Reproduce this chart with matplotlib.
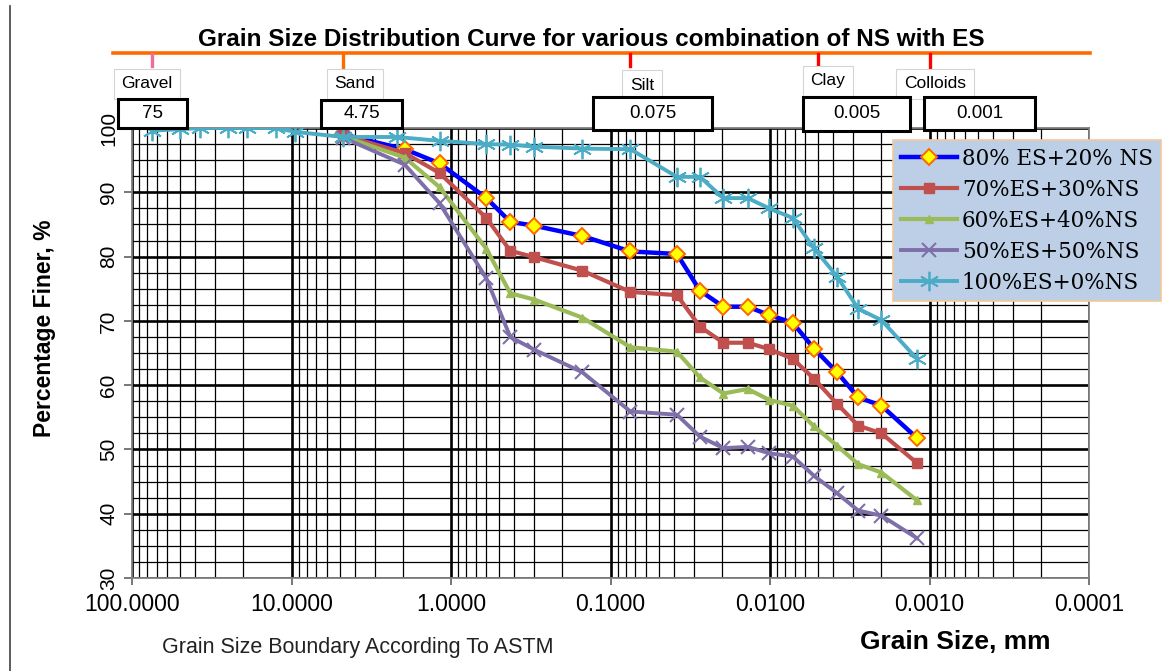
import matplotlib
matplotlib.use("Agg")
import matplotlib.pyplot as plt
import matplotlib.transforms as mtransforms
from matplotlib.lines import Line2D
from matplotlib.patches import Rectangle
from matplotlib.ticker import FixedLocator, FixedFormatter, LogLocator, MultipleLocator, NullFormatter

plt.rcParams['font.family'] = ['Liberation Sans', 'DejaVu Sans']

# Grain sizes (mm): sieve analysis followed by hydrometer readings
sizes_es = [75, 50, 37.5, 25, 19, 12.5, 9.5, 4.75, 2.18, 1.18, 0.6, 0.425, 0.3, 0.15, 0.075,
            0.0383, 0.0275, 0.0196, 0.0138, 0.0101, 0.0072, 0.0053, 0.0038, 0.0028, 0.0020, 0.0012]
sizes_mix = [4.75, 1.95, 1.18, 0.6, 0.425, 0.3, 0.15, 0.075,
             0.0383, 0.0275, 0.0196, 0.0138, 0.0101, 0.0072, 0.0053, 0.0038, 0.0028, 0.0020, 0.0012]

es80_ns20 = [99.0, 96.7, 94.5, 89.1, 85.4, 84.8, 83.2, 80.8,
             80.4, 74.7, 72.2, 72.2, 70.9, 69.7, 65.7, 62.0, 58.1, 56.8, 51.8]
es70_ns30 = [98.9, 96.1, 93.0, 86.0, 80.9, 79.9, 77.8, 74.5,
             74.0, 69.1, 66.6, 66.6, 65.6, 64.1, 61.0, 57.1, 53.7, 52.5, 47.9]
es60_ns40 = [98.7, 95.4, 90.8, 81.2, 74.3, 73.3, 70.5, 65.9,
             65.2, 61.2, 58.7, 59.4, 57.7, 56.8, 53.6, 50.6, 47.7, 46.4, 42.1]
es50_ns50 = [98.5, 94.3, 88.3, 76.6, 67.5, 65.5, 62.0, 55.9,
             55.4, 52.0, 50.2, 50.4, 49.4, 48.9, 45.9, 43.2, 40.5, 39.7, 36.2]
es100_ns0 = [99.6, 99.8, 100.0, 100.0, 100.0, 100.0, 99.4, 98.6, 98.6, 98.0, 97.5, 97.4, 97.1, 96.8, 96.7,
             92.4, 92.4, 89.1, 89.1, 87.5, 86.0, 81.3, 76.9, 71.9, 70.1, 64.1]

series_labels = ['80% ES+20% NS', '70%ES+30%NS', '60%ES+40%NS', '50%ES+50%NS', '100%ES+0%NS']

x_ticks = [100, 10, 1, 0.1, 0.01, 0.001, 0.0001]
x_tick_labels = ['100.0000', '10.0000', '1.0000', '0.1000', '0.0100', '0.0010', '0.0001']
y_ticks = [30, 40, 50, 60, 70, 80, 90, 100]

# ASTM grain size boundaries
boundary_mm = [75, 4.75, 0.075, 0.005, 0.001]
boundary_names = ['Gravel', 'Sand', 'Silt', 'Clay', 'Colloids']
boundary_values = ['75', '4.75', '0.075', '0.005', '0.001']

W, H = 1165, 671


def fx(px):
    return px / W


def fy(py):
    return 1 - py / H


fig = plt.figure(figsize=(W / 100, H / 100), dpi=100)
fig.patch.set_facecolor('white')
ax = fig.add_axes([fx(132), fy(578), (1089 - 132) / W, (578 - 128) / H])

ax.set_xscale('log')
ax.set_xlim(100, 0.0001)
ax.set_ylim(30, 100)

ax.xaxis.set_major_locator(FixedLocator(x_ticks))
ax.xaxis.set_major_formatter(FixedFormatter(x_tick_labels))
ax.xaxis.set_minor_locator(LogLocator(base=10, subs=[2, 3, 4, 5, 6, 7, 8, 9], numticks=20))
ax.xaxis.set_minor_formatter(NullFormatter())
ax.set_yticks(y_ticks)
ax.set_yticklabels([str(v) for v in y_ticks], rotation=90, va='center')
ax.yaxis.set_minor_locator(MultipleLocator(2.5))

ax.grid(which='major', color='black', lw=1.9, zorder=0)
ax.grid(which='minor', color='black', lw=0.9, zorder=0)
ax.set_axisbelow(True)
ax.tick_params(axis='both', which='minor', length=0)
ax.tick_params(axis='x', which='major', direction='out', length=5, width=1.2, color='#606060',
               labelsize=16.5, pad=6)
ax.tick_params(axis='y', which='major', direction='out', length=6, width=1.2, color='#606060',
               labelsize=15, pad=4)
for sp in ax.spines.values():
    sp.set_color('#808080')
    sp.set_linewidth(1.3)

l1, = ax.plot(sizes_mix, es80_ns20, color='#0000FF', lw=3.2, marker='D', ms=8,
              mfc='#FFFF00', mec='#FF6600', mew=1.4, zorder=3)
l2, = ax.plot(sizes_mix, es70_ns30, color='#C0504D', lw=3.0, marker='s', ms=7.5,
              mec='#C0504D', zorder=3)
l3, = ax.plot(sizes_mix, es60_ns40, color='#9BBB59', lw=3.0, marker='^', ms=6,
              mec='#9BBB59', zorder=3)
l4, = ax.plot(sizes_mix, es50_ns50, color='#7F6FA8', lw=2.8, marker='x', ms=10,
              mew=1.5, zorder=3)
l5, = ax.plot(sizes_es, es100_ns0, color='#4BACC6', lw=2.8, marker=(6, 2, 0), ms=14,
              mew=1.3, zorder=3)

leg = ax.legend([l1, l2, l3, l4, l5], series_labels, loc='upper left',
                bbox_to_anchor=(fx(893), fy(140)), bbox_transform=fig.transFigure,
                prop={'family': 'DejaVu Serif', 'size': 15.5}, handlelength=2.6,
                handletextpad=0.25, labelspacing=0.42, borderpad=0.35, borderaxespad=0,
                fancybox=False, framealpha=1, facecolor='#BCCFE7', edgecolor='#F3C896')
leg.set_zorder(6)
leg.get_frame().set_linewidth(1.2)

# Header: title, orange scale bar and ASTM boundary markers
fig.text(fx(591), fy(40), 'Grain Size Distribution Curve for various combination of NS with ES',
         ha='center', va='center', fontsize=17.5, weight='bold')
fig.add_artist(Line2D([fx(113), fx(1090)], [fy(53), fy(53)], color='#FF6A00', lw=2.6))

blend = mtransforms.blended_transform_factory(ax.transData, fig.transFigure)
tick_colors = ['#F06C9B', '#FF6A00', '#FF0000', '#FF0000', '#FF0000']
tick_ends = [66, 100, 66, 66, 98]
for size, col, yend in zip(boundary_mm, tick_colors, tick_ends):
    fig.add_artist(Line2D([size, size], [fy(54), fy(yend)], transform=blend,
                          color=col, lw=2.4, clip_on=False, zorder=2))

name_pos = [(147, 84), (355, 84), (642, 85), (828, 81), (935, 84)]
for name, (px, py) in zip(boundary_names, name_pos):
    fig.text(fx(px), fy(py), name, ha='center', va='center', fontsize=12.5, zorder=4,
             bbox=dict(boxstyle='square,pad=0.45', fc='white', ec='#D4D4D4', lw=0.8))

value_boxes = [(118, 99, 187, 128), (321, 100, 402, 128), (593, 97, 712, 130),
               (803, 97, 910, 131), (924, 97, 1035, 130)]
for val, (x0, y0, x1, y1) in zip(boundary_values, value_boxes):
    fig.add_artist(Rectangle((fx(x0), fy(y1)), fx(x1) - fx(x0), fy(y0) - fy(y1),
                             transform=fig.transFigure, fc='white', ec='black', lw=2.2, zorder=5))
    fig.text(fx((x0 + x1) / 2), fy((y0 + y1) / 2), val, ha='center', va='center',
             fontsize=13.5, zorder=6)

# Axis titles and footnote
fig.text(fx(45), fy(328), 'Percentage Finer, %', rotation=90, ha='center', va='center',
         fontsize=16.5, weight='bold')
fig.text(fx(955), fy(642), 'Grain Size, mm', ha='center', va='center', fontsize=19,
         weight='bold')
fig.text(fx(358), fy(647), 'Grain Size Boundary According To ASTM', ha='center', va='center',
         fontsize=15.5, color='#222222')

fig.add_artist(Line2D([fx(10), fx(10)], [fy(6), fy(671)], color='#404040', lw=1.2))

fig.savefig('out.png', dpi=100)
